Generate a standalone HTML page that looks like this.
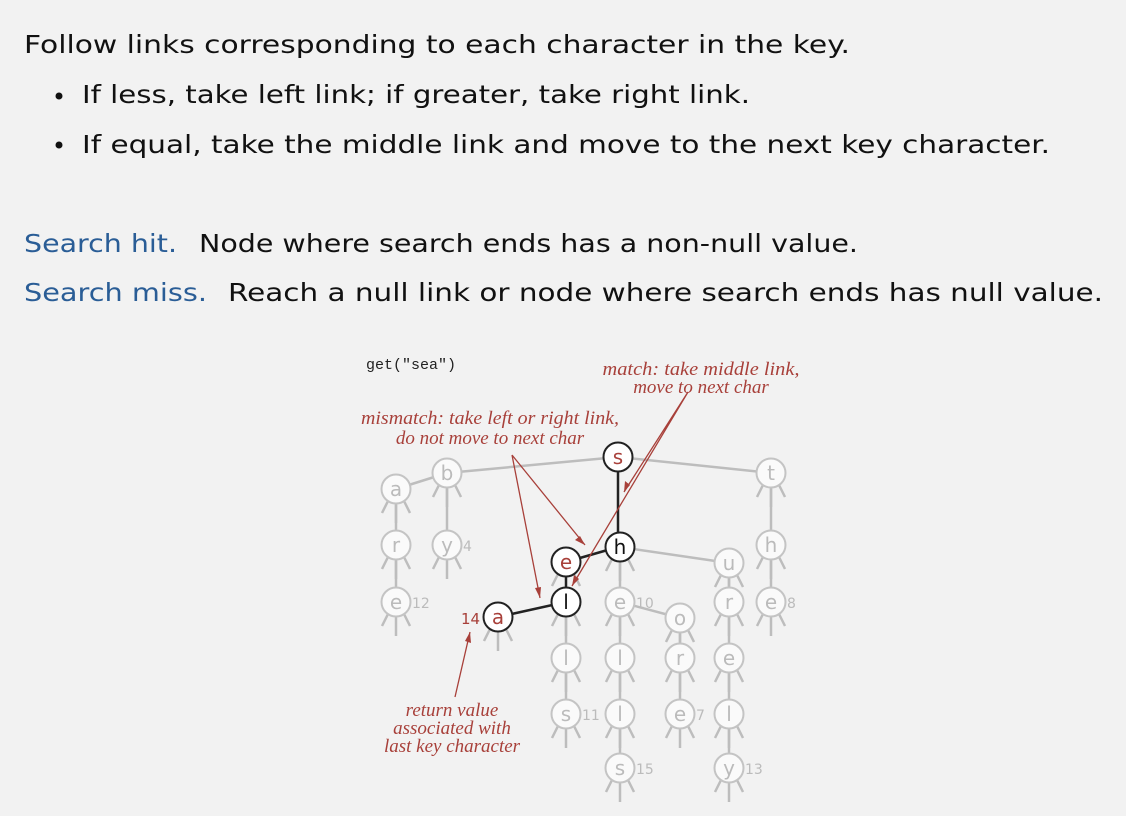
<!DOCTYPE html>
<html><head><meta charset="utf-8"><style>
html,body{margin:0;padding:0;background:#f2f2f2;}
svg{display:block}
.t{font-family:"DejaVu Sans","Liberation Sans",sans-serif;font-size:25px;fill:#111}
.b{fill:#2a5d96}
.r{font-family:"Liberation Serif",serif;font-style:italic;font-size:19px;fill:#a8403a}
.g{stroke:#bdbdbd;stroke-width:2.5;fill:none}
.k{stroke:#222;stroke-width:2.5;fill:none}
.ar{stroke:#a8403a;stroke-width:1.3;fill:none}
.nl{font-family:"DejaVu Sans",sans-serif;font-size:20px;text-anchor:middle}
.num{font-family:"DejaVu Sans",sans-serif;font-size:14px;fill:#bbb}
</style></head><body>
<svg width="1126" height="816" viewBox="0 0 1126 816">
<rect width="1126" height="816" fill="#f2f2f2"/>
<text class="t" x="24" y="53" textLength="826" lengthAdjust="spacingAndGlyphs">Follow links corresponding to each character in the key.</text>
<circle cx="59" cy="96" r="3.5" fill="#111"/>
<text class="t" x="82" y="103" textLength="668" lengthAdjust="spacingAndGlyphs">If less, take left link; if greater, take right link.</text>
<circle cx="59" cy="145" r="3.5" fill="#111"/>
<text class="t" x="82" y="153" textLength="968" lengthAdjust="spacingAndGlyphs">If equal, take the middle link and move to the next key character.</text>
<text class="t b" x="24" y="252" textLength="153" lengthAdjust="spacingAndGlyphs">Search hit.</text>
<text class="t" x="199" y="252" textLength="659" lengthAdjust="spacingAndGlyphs">Node where search ends has a non-null value.</text>
<text class="t b" x="24" y="301" textLength="183" lengthAdjust="spacingAndGlyphs">Search miss.</text>
<text class="t" x="228" y="301" textLength="875" lengthAdjust="spacingAndGlyphs">Reach a null link or node where search ends has null value.</text>

<text x="366" y="369" font-family="Liberation Mono,monospace" font-size="15" fill="#222">get("sea")</text>
<text class="r" x="701" y="375" text-anchor="middle" textLength="197" lengthAdjust="spacingAndGlyphs">match: take middle link,</text>
<text class="r" x="701" y="393" text-anchor="middle">move to next char</text>
<text class="r" x="490" y="424" text-anchor="middle" textLength="258" lengthAdjust="spacingAndGlyphs">mismatch: take left or right link,</text>
<text class="r" x="490" y="444" text-anchor="middle">do not move to next char</text>
<text class="r" x="452" y="716" text-anchor="middle">return value</text>
<text class="r" x="452" y="734" text-anchor="middle">associated with</text>
<text class="r" x="452" y="752" text-anchor="middle">last key character</text>

<path class="g" d="M618 457 L447 473 M618 457 L771 473 M447 473 L396 489 M396 489 V602 M447 473 V545 M771 473 V602 M620 547 L729 563 M620 547 V602 M566 602 V714 M620 602 V768 M620 602 L680 618 M680 618 V714 M729 563 V768"/>
<g class="g" id="stubs"></g>
<path class="k" d="M618 457 V547 L566 562 V602 L498 617"/>
<g id="nodes"></g>
<text x="461" y="624" font-family="DejaVu Sans,sans-serif" font-size="15" fill="#a8403a">14</text>

<g class="ar">
<path d="M512 455 L585 545 M512 455 L540 598 M688 392 L624 492 M688 392 L572 586 M455 697 L470 632"/>
</g>
<g fill="#a8403a">
<polygon points="585,545 575,540 580,536"/>
<polygon points="540,598 535,588 541,587"/>
<polygon points="624,492 625,481 630,485"/>
<polygon points="572,586 574,575 579,579"/>
<polygon points="470,632 471,643 465,641"/>
</g>
</svg>
<script>
const ns="http://www.w3.org/2000/svg";
const N=[["s",618,457,2],["b",447,473,0],["a",396,489,0],["t",771,473,0],["h",620,547,1],["e",566,562,2],["u",729,563,0],["r",396,545,0],["y",447,545,0,"4"],["h",771,545,0],["l",566,602,1],["a",498,617,2],["e",620,602,0,"10"],["o",680,618,0],["r",729,602,0],["e",771,602,0,"8"],["e",396,602,0,"12"],["l",566,658,0],["l",620,658,0],["r",680,658,0],["e",729,658,0],["s",566,714,0,"11"],["l",620,714,0],["e",680,714,0,"7"],["l",729,714,0],["s",620,768,0,"15"],["y",729,768,0,"13"]];
const st=document.getElementById("stubs"),nd=document.getElementById("nodes");
let d="";
N.forEach(n=>{const[c,x,y,k,num]=n;
 if(k!=2||c=="a") d+=`M${x-8} ${y+12} L${x-14} ${y+24} M${x+8} ${y+12} L${x+14} ${y+24} M${x} ${y+14} V${y+34} `;
 if(c=="e"&&k==2) d+=`M${x-8} ${y+12} L${x-14} ${y+24} M${x+8} ${y+12} L${x+14} ${y+24} `;
 const ci=document.createElementNS(ns,"circle");ci.setAttribute("cx",x);ci.setAttribute("cy",y);ci.setAttribute("r",14.5);
 ci.setAttribute("fill",k?"#fff":"#fafafa");ci.setAttribute("stroke",k?"#222":"#c4c4c4");ci.setAttribute("stroke-width",2);nd.appendChild(ci);
 const t=document.createElementNS(ns,"text");t.setAttribute("x",x);t.setAttribute("y",y+7);t.setAttribute("class","nl");
 t.setAttribute("fill",k==2?"#a8403a":k==1?"#111":"#bbb");t.textContent=c;nd.appendChild(t);
 if(num){const u=document.createElementNS(ns,"text");u.setAttribute("x",x+16);u.setAttribute("y",y+6);u.setAttribute("class","num");u.textContent=num;nd.appendChild(u);}
});
const p=document.createElementNS(ns,"path");p.setAttribute("d",d);st.appendChild(p);
</script>
</body></html>
